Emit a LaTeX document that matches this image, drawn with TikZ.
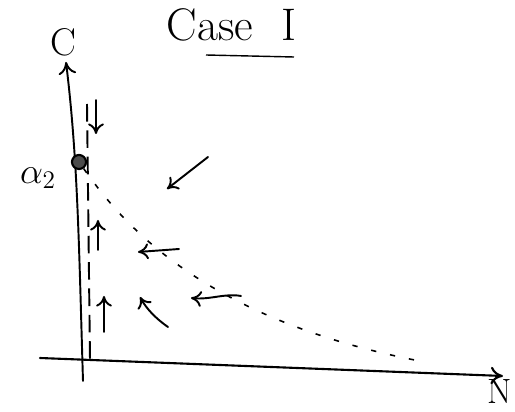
\documentclass[tikz,border=0pt]{standalone}
\usetikzlibrary{arrows.meta}
\begin{document}
\begin{tikzpicture}[x=0.02cm,y=-0.02cm,
  pen/.style={line width=1.1pt,line cap=round},
  flow/.style={pen,-{To[length=6pt,width=9pt]}},
  lbl/.style={inner sep=0pt,font=\fontsize{22}{24}\selectfont},
  guide/.style={line width=1.1pt,dash pattern=on 10pt off 5pt},
  nullc/.style={line width=0.9pt,dash pattern=on 3pt off 8pt}]
\useasboundingbox (0,0) rectangle (515,412);
% labels
\node[lbl,font=\fontsize{26}{28}\selectfont] (title) at (210,25) {Case};
\node[lbl,font=\fontsize{26}{28}\selectfont] (roman) at (289,25) {I};
\coordinate (ul1) at (206,55);
\coordinate (ul2) at (294,57);
\draw[line width=0.8pt] (ul1) -- (ul2);
\node[lbl] (clab) at (63,42) {C};
\node[lbl,font=\fontsize{20}{22}\selectfont] (nlab) at (500,392) {N};
\node[lbl] (alab) at (38,178) {$\alpha_2$};
% axes
\coordinate (o) at (83,381);
\coordinate (ctop) at (66,62);
\coordinate (nl) at (40,358);
\coordinate (nr) at (503,376);
\draw[pen,-{To[length=7pt,width=10pt]}] (o) .. controls (79,250) and (78,160) .. (ctop);
\draw[line width=1.2pt,line cap=round,-{To[length=7pt,width=10pt]}] (nl) -- (nr);
% dashed nullcline on axis
\coordinate (d1) at (87,104);
\coordinate (d2) at (90,360);
\draw[guide] (d1) -- (d2);
% equilibrium point
\node[circle,draw,fill=black!70,line width=1.2pt,minimum size=8pt,inner sep=0pt] (eq) at (79,162) {};
% dotted curve
\coordinate (cend) at (425,362);
\draw[nullc] (eq) .. controls (120,220) and (200,320) .. (cend);
% flow arrows
\coordinate (a1s) at (96,100); \coordinate (a1e) at (96,134);
\draw[flow] (a1s) -- (a1e);
\coordinate (a2s) at (208,157); \coordinate (a2e) at (167,189);
\draw[flow] (a2s) -- (a2e);
\coordinate (a3s) at (98,250); \coordinate (a3e) at (98,220);
\draw[flow] (a3s) -- (a3e);
\coordinate (a4s) at (104,332); \coordinate (a4e) at (104,296);
\draw[flow] (a4s) -- (a4e);
\coordinate (a5s) at (179,249); \coordinate (a5e) at (138,252);
\draw[flow] (a5s) -- (a5e);
\coordinate (a6s) at (241,296); \coordinate (a6e) at (191,298);
\draw[flow] (a6s) .. controls (225,293) and (210,300) .. (a6e);
\coordinate (a7s) at (168,327); \coordinate (a7e) at (140,297);
\draw[flow] (a7s) .. controls (155,318) and (146,308) .. (a7e);
\end{tikzpicture}
\end{document}
